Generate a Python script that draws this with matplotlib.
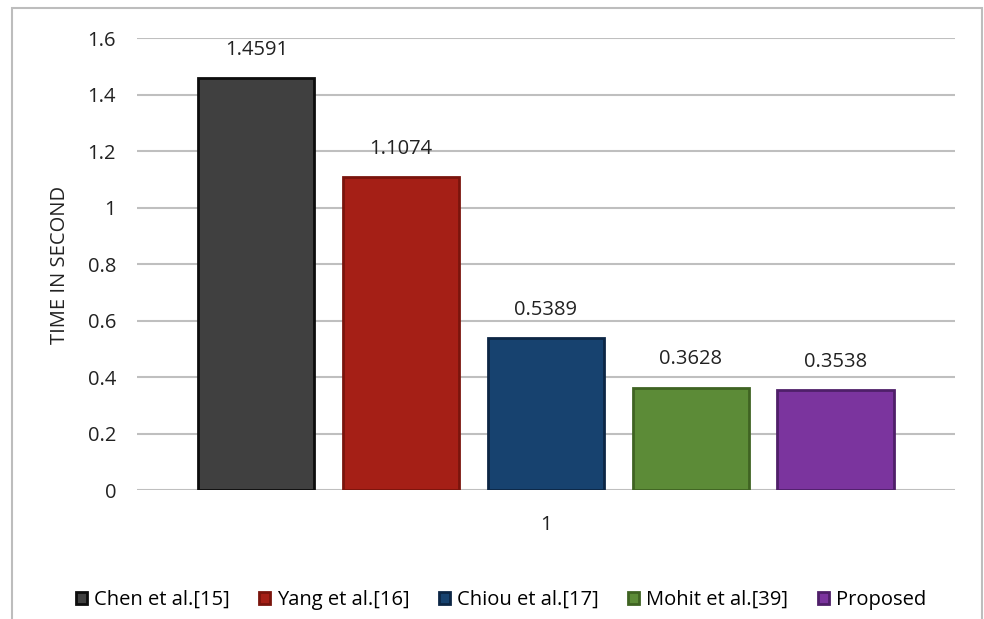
import numpy as np
import matplotlib.pyplot as plt
from matplotlib.patches import Rectangle

methods = ['Chen et al.[15]', 'Yang et al.[16]', 'Chiou et al.[17]', 'Mohit et al.[39]', 'Proposed']
times = [1.4591, 1.1074, 0.5389, 0.3628, 0.3538]
value_labels = ['1.4591', '1.1074', '0.5389', '0.3628', '0.3538']
colors = ['#404040', '#a51f16', '#17426f', '#5c8b37', '#7b349e']
edges = ['#0d0d0d', '#7a140c', '#0c2645', '#3f6322', '#4f1f69']
yticks = [0, 0.2, 0.4, 0.6, 0.8, 1, 1.2, 1.4, 1.6]
ytick_labels = ['0', '0.2', '0.4', '0.6', '0.8', '1', '1.2', '1.4', '1.6']

plt.rcParams['font.family'] = ['Open Sans', 'DejaVu Sans']

fig = plt.figure(figsize=(9.84, 6.19), dpi=100)
ax = fig.add_axes([0.1392, 0.2084, 0.8313, 0.7302])

# outer chart border
fig.patches.append(Rectangle((12 / 984, -0.05), 970 / 984, 1.05 - 8 / 619,
                             transform=fig.transFigure, fill=False,
                             edgecolor='#bdbdbd', linewidth=1.5))

step = 0.177
width = 0.142
x = 0.5 + (np.arange(len(times)) - 2) * step
for i in range(len(times)):
    ax.bar(x[i], times[i], width=width, color=colors[i], edgecolor=edges[i],
           linewidth=2, label=methods[i], zorder=3)
    ax.text(x[i], times[i] + 0.1, value_labels[i], ha='center', va='center',
            fontsize=14.5, color='#222222')

ax.set_xlim(0, 1)
ax.set_ylim(0, 1.6)
ax.set_yticks(yticks)
ax.set_yticklabels(ytick_labels, fontsize=14.5, color='#222222')
ax.set_xticks([0.5])
ax.set_xticklabels(['1'], fontsize=14.5, color='#222222')
ax.tick_params(axis='y', length=0, pad=15)
ax.tick_params(axis='x', length=0, pad=18)
ax.yaxis.grid(True, color='#bfbfbf', linewidth=1.5, zorder=0)
for s in ax.spines.values():
    s.set_visible(False)

fig.text(60 / 984, 1 - 265 / 619, 'TIME IN SECOND', rotation=90, ha='center',
         va='center', fontsize=14.5, color='#222222')

handles, labels = ax.get_legend_handles_labels()
fig.legend(handles, labels, loc='center', bbox_to_anchor=(501 / 984, 1 - 600 / 619),
           ncol=5, frameon=False, fontsize=14.5, handlelength=0.55, handleheight=0.55,
           handletextpad=0.35, columnspacing=1.45)

fig.savefig('out.png', dpi=100, facecolor='white')
